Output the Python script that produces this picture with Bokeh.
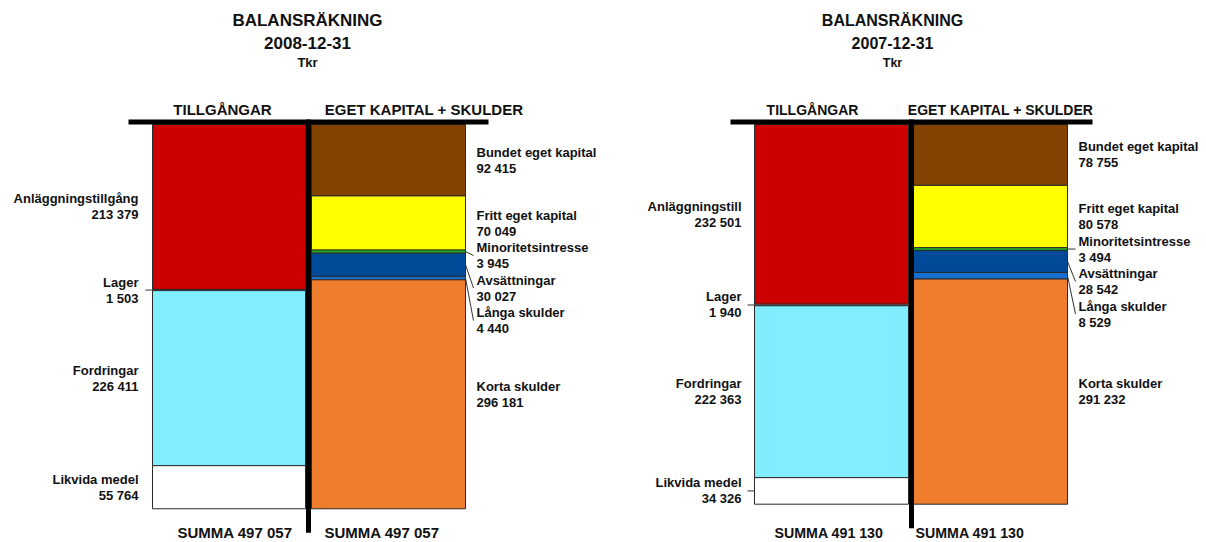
from bokeh.plotting import figure
from bokeh.models import Range1d, ColumnDataSource
from bokeh.core.properties import value
from bokeh.embed import file_html
from bokeh.resources import INLINE

# ---------------- data ----------------
report_title = "BALANSRÄKNING"
unit_label = "Tkr"
header_assets = "TILLGÅNGAR"
header_liab = "EGET KAPITAL + SKULDER"
dates = ["2008-12-31", "2007-12-31"]

asset_names_2008 = ["Anläggningstillgång", "Lager", "Fordringar", "Likvida medel"]
asset_values_2008 = [213379, 1503, 226411, 55764]
liab_names_2008 = ["Bundet eget kapital", "Fritt eget kapital", "Minoritetsintresse",
                   "Avsättningar", "Långa skulder", "Korta skulder"]
liab_values_2008 = [92415, 70049, 3945, 30027, 4440, 296181]

asset_names_2007 = ["Anläggningstill", "Lager", "Fordringar", "Likvida medel"]
asset_values_2007 = [232501, 1940, 222363, 34326]
liab_names_2007 = ["Bundet eget kapital", "Fritt eget kapital", "Minoritetsintresse",
                   "Avsättningar", "Långa skulder", "Korta skulder"]
liab_values_2007 = [78755, 80578, 3494, 28542, 8529, 291232]

asset_colors = ["#CC0000", "#FF99CC", "#80EEFF", "#FFFFFF"]
liab_colors = ["#844200", "#FFFF00", "#22B422", "#004A9A", "#1670D2", "#EE7D2D"]

# ---------------- layout ----------------
W, H = 1206, 542
U = 1293.5          # data units per pixel (vertical)
TOP_PX = 124        # pixel row of the bar tops


def d(py):
    """pixel row -> data value on the flipped y scale"""
    return (py - TOP_PX) * U


FONT = "Liberation Sans"
INK = "#111111"

p = figure(width=W, height=H, output_backend="svg", toolbar_location=None,
           x_range=Range1d(0, W), y_range=Range1d(start=d(H), end=d(0)),
           x_axis_type=None, y_axis_type=None, min_border=0,
           outline_line_color=None, background_fill_color="white")
p.grid.visible = False

charts = [
    dict(date=dates[0], an=asset_names_2008, av=asset_values_2008, ln=liab_names_2008,
         lv=liab_values_2008, div=308, lb=(152, 305), rb=(311, 465), tbar=(128, 488),
         title_x=307, h_assets=222, h_liab=423.5, sum_l=234.5, sum_r=381.5,
         lab_l=138, lab_r=476, fs_title=17, fs_tkr=13, fs_head=15, fs_lab=13, fs_sum=15),
    dict(date=dates[1], an=asset_names_2007, av=asset_values_2007, ln=liab_names_2007,
         lv=liab_values_2007, div=911, lb=(754, 908), rb=(913, 1067), tbar=(730, 1092),
         title_x=892, h_assets=812, h_liab=1000, sum_l=828.5, sum_r=969.5,
         lab_l=741, lab_r=1078, fs_title=16, fs_tkr=12.5, fs_head=14, fs_lab=13, fs_sum=14.2),
]

LH = 32.5 * U   # label block height in data units


def fmt(v):
    return f"{v:,}".replace(",", " ")


def stack(vals):
    tops, bots = [], []
    acc = 0
    for v in vals:
        tops.append(acc)
        acc += v
        bots.append(acc)
    return tops, bots


def place(centers):
    out, prev = [], -1e12
    for c in centers:
        pos = max(c, prev + LH)
        out.append(pos)
        prev = pos
    return out


def txt(x, y, s, size, align="center", baseline="middle", yoff=0):
    p.text(x=[x], y=[y], text=[s], text_font=value(FONT), text_font_style="bold",
           text_font_size=f"{size}px", text_align=align, text_baseline=baseline,
           text_color=INK, y_offset=yoff)


for c in charts:
    # titles
    txt(c["title_x"], d(20), report_title, c["fs_title"])
    txt(c["title_x"], d(42), c["date"], c["fs_title"])
    txt(c["title_x"], d(62), unit_label, c["fs_tkr"])
    txt(c["h_assets"], d(109), header_assets, c["fs_head"])
    txt(c["h_liab"], d(109), header_liab, c["fs_head"])

    for names, vals, cols, bx, side in [(c["an"], c["av"], asset_colors, c["lb"], "L"),
                                        (c["ln"], c["lv"], liab_colors, c["rb"], "R")]:
        tops, bots = stack(vals)
        src = ColumnDataSource(dict(left=[bx[0]] * len(vals), right=[bx[1]] * len(vals),
                                    top=tops, bottom=bots, color=cols))
        p.quad(left="left", right="right", top="top", bottom="bottom", fill_color="color",
               line_color="#2a2a2a", line_width=1, source=src)
        centers = [(t + b) / 2 for t, b in zip(tops, bots)]
        pos = place(centers)
        if side == "L":
            lx, al, edge, lead = c["lab_l"], "right", bx[0], -7
        else:
            lx, al, edge, lead = c["lab_r"], "left", bx[1], 8
        vs = [fmt(v) for v in vals]
        s2 = ColumnDataSource(dict(x=[lx] * len(vals), y=pos, name=list(names), val=vs))
        p.text(x="x", y="y", text="name", source=s2, text_font=value(FONT),
               text_font_style="bold", text_font_size=f"{c['fs_lab']}px", text_align=al,
               text_baseline="middle", text_color=INK, y_offset=-8)
        p.text(x="x", y="y", text="val", source=s2, text_font=value(FONT),
               text_font_style="bold", text_font_size=f"{c['fs_lab']}px", text_align=al,
               text_baseline="middle", text_color=INK, y_offset=8)
        x0, y0, x1, y1 = [], [], [], []
        for v, cy, ly in zip(vals, centers, pos):
            if v < LH:
                x0.append(edge); y0.append(cy); x1.append(edge + lead); y1.append(ly)
        if x0:
            p.segment(x0=x0, y0=y0, x1=x1, y1=y1, line_color="#333333", line_width=1)
        # SUMMA
        total = sum(vals)
        sx = c["sum_l"] if side == "L" else c["sum_r"]
        txt(sx, d(532), f"SUMMA {fmt(total)}", c["fs_sum"])

    # the T
    total = sum(c["av"])
    p.segment(x0=[c["div"]], y0=[d(119)], x1=[c["div"]], y1=[total + 24 * U],
              line_color="black", line_width=5)
    p.segment(x0=[c["tbar"][0]], y0=[d(121.5)], x1=[c["tbar"][1]], y1=[d(121.5)],
              line_color="black", line_width=5)

open("out.html", "w").write(file_html(p, INLINE))
